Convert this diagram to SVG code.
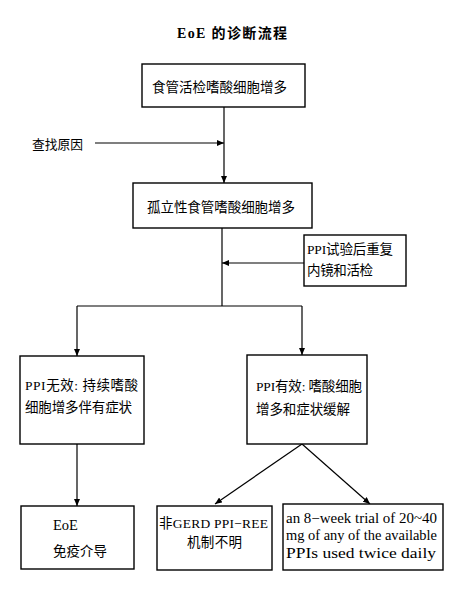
<svg xmlns="http://www.w3.org/2000/svg" width="474" height="589" viewBox="0 0 474 589">
<defs>
<marker id="ah" markerUnits="userSpaceOnUse" markerWidth="8" markerHeight="6" refX="7" refY="3" orient="auto">
<path d="M0,0 L7,3 L0,6 Z" fill="#000"/>
</marker>
<style>
.box{fill:#fff;stroke:#000;stroke-width:1.4}
.t{font-family:"Liberation Serif","Noto Sans CJK SC",serif;font-size:13.5px;fill:#000}
.e{font-size:14.5px}
.c{stroke:#000;stroke-width:1.2;fill:none}
.a{marker-end:url(#ah)}
</style>
</defs>
<rect width="474" height="589" fill="#fff"/>
<text class="t" x="177" y="38" textLength="110" lengthAdjust="spacing" style="font-weight:bold;font-size:14px">EoE 的诊断流程</text>
<g id="connectors">
<line class="c a" x1="224" y1="107" x2="224" y2="183"/>
<line class="c a" x1="95" y1="143" x2="224" y2="143"/>
<line class="c" x1="222" y1="228" x2="222" y2="306"/>
<line class="c a" x1="304" y1="263" x2="222" y2="263"/>
<polyline class="c" points="77,306 302,306"/>
<line class="c a" x1="77" y1="306" x2="77" y2="356"/>
<line class="c a" x1="302" y1="306" x2="302" y2="355"/>
<line class="c a" x1="77" y1="444" x2="77" y2="506"/>
<line class="c a" x1="302" y1="444" x2="215" y2="504"/>
<line class="c a" x1="302" y1="444" x2="370" y2="504"/>
</g>
<g id="biopsy">
<rect class="box" x="142" y="64" width="163" height="43"/>
<text class="t" x="152" y="92" textLength="135" lengthAdjust="spacing">食管活检嗜酸细胞增多</text>
</g>
<g id="cause">
<text class="t" x="32" y="149" textLength="51" lengthAdjust="spacingAndGlyphs" style="font-size:13px">查找原因</text>
</g>
<g id="isolated">
<rect class="box" x="133" y="183" width="179" height="45"/>
<text class="t" x="147" y="212" textLength="148" lengthAdjust="spacing">孤立性食管嗜酸细胞增多</text>
</g>
<g id="ppitrial">
<rect class="box" x="304" y="235" width="102" height="51"/>
<text class="t" x="307" y="254" textLength="86" lengthAdjust="spacing">PPI试验后重复</text>
<text class="t" x="307" y="275" textLength="66" lengthAdjust="spacing">内镜和活检</text>
</g>
<g id="ppifail">
<rect class="box" x="20" y="356" width="124" height="88"/>
<text class="t" x="25" y="390" textLength="113" lengthAdjust="spacing">PPI无效:  持续嗜酸</text>
<text class="t" x="25" y="412" textLength="107" lengthAdjust="spacing">细胞增多伴有症状</text>
</g>
<g id="ppiok">
<rect class="box" x="247" y="355" width="120" height="89"/>
<text class="t" x="256" y="391" textLength="106" lengthAdjust="spacing">PPI有效: 嗜酸细胞</text>
<text class="t" x="256" y="414" textLength="94" lengthAdjust="spacing">增多和症状缓解</text>
</g>
<g id="eoe">
<rect class="box" x="21" y="506" width="113" height="63"/>
<text class="t e" x="53" y="530">EoE</text>
<text class="t" x="53" y="556" textLength="54" lengthAdjust="spacing">免疫介导</text>
</g>
<g id="nongerd">
<rect class="box" x="157" y="506" width="115" height="64"/>
<text class="t" x="159" y="528" textLength="109" lengthAdjust="spacing">非GERD PPI−REE</text>
<text class="t" x="187" y="547" textLength="55" lengthAdjust="spacing">机制不明</text>
</g>
<g id="trial">
<rect class="box" x="283" y="504" width="160" height="66"/>
<text class="t e" x="286" y="523" textLength="151" lengthAdjust="spacingAndGlyphs">an 8−week trial of 20~40</text>
<text class="t e" x="286" y="540" textLength="151" lengthAdjust="spacingAndGlyphs">mg of any of the available</text>
<text class="t e" x="286" y="558" textLength="150" lengthAdjust="spacingAndGlyphs">PPIs used twice daily</text>
</g>
</svg>
